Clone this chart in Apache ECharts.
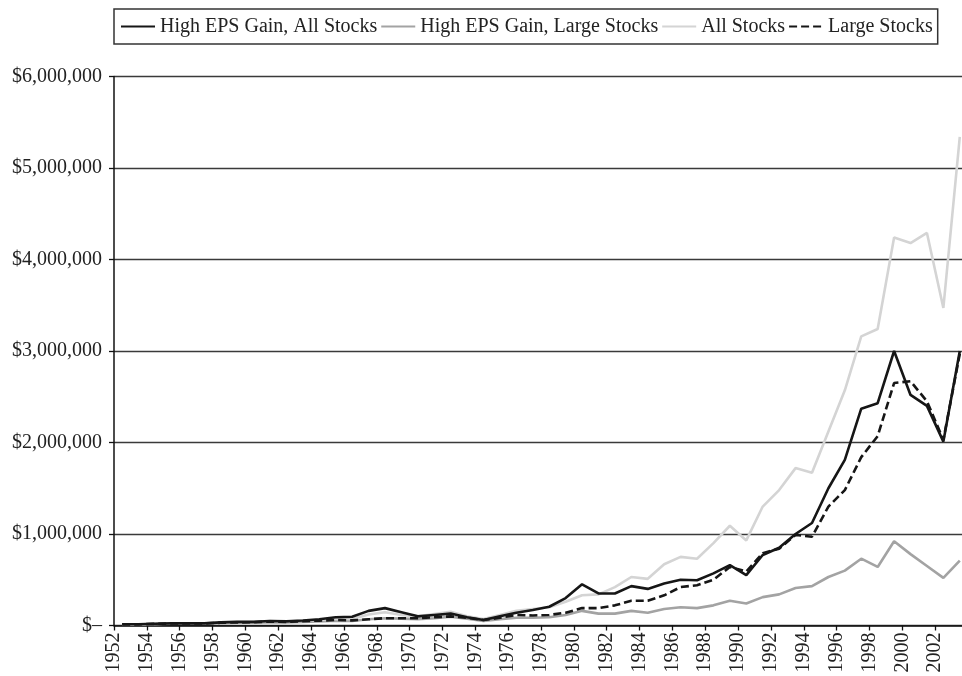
<!DOCTYPE html>
<html>
<head>
<meta charset="utf-8">
<script src="https://cdn.jsdelivr.net/npm/echarts@6/dist/echarts.min.js"></script>
<style>
html,body{margin:0;padding:0;background:#fff;}
#chart{width:962px;height:676px;}
</style>
</head>
<body>
<div id="chart"></div>
<script>
const years = [1952,1953,1954,1955,1956,1957,1958,1959,1960,1961,1962,1963,1964,1965,1966,1967,1968,1969,1970,1971,1972,1973,1974,1975,1976,1977,1978,1979,1980,1981,1982,1983,1984,1985,1986,1987,1988,1989,1990,1991,1992,1993,1994,1995,1996,1997,1998,1999,2000,2001,2002,2003];

const highEpsAll = [13000,13000,19000,23000,25000,23000,34000,40000,40000,50000,45000,55000,68000,90000,95000,160000,190000,145000,100000,115000,130000,90000,60000,100000,140000,170000,205000,300000,450000,350000,350000,430000,400000,460000,500000,495000,570000,660000,550000,770000,850000,1000000,1120000,1500000,1810000,2370000,2430000,3000000,2520000,2400000,2010000,3000000];

const highEpsLarge = [11000,11000,16000,19000,21000,19000,26000,30000,30000,37000,33000,40000,45000,52000,50000,68000,80000,75000,70000,80000,95000,75000,50000,70000,85000,85000,90000,115000,160000,130000,130000,160000,140000,180000,200000,190000,220000,270000,240000,310000,340000,410000,430000,530000,600000,730000,640000,920000,780000,650000,520000,710000];

const allStocks = [12000,12000,18000,22000,24000,22000,33000,38000,38000,48000,43000,52000,60000,75000,72000,120000,145000,115000,100000,125000,150000,100000,70000,115000,160000,180000,200000,260000,330000,340000,420000,530000,510000,670000,750000,730000,900000,1090000,930000,1300000,1480000,1720000,1670000,2120000,2570000,3160000,3240000,4240000,4180000,4290000,3470000,5340000];

const largeStocks = [12000,12000,18000,22000,24000,22000,30000,34000,35000,43000,40000,47000,53000,60000,56000,68000,80000,80000,80000,90000,100000,85000,60000,85000,115000,110000,115000,140000,190000,190000,220000,270000,270000,330000,420000,440000,500000,640000,590000,790000,840000,990000,970000,1300000,1480000,1840000,2070000,2650000,2670000,2450000,2030000,2970000];

const seriesNames = ['High EPS Gain, All Stocks','High EPS Gain, Large Stocks','All Stocks','Large Stocks'];

const FONT = 'Liberation Serif';
const chart = echarts.init(document.getElementById('chart'), null, {renderer:'canvas'});

function lineSeries(name, data, color, type, z){
  return {
    name: name, type: 'line', data: data,
    xAxisIndex: 0, yAxisIndex: 0,
    symbol: 'none', showSymbol: false,
    lineStyle: {color: color, width: 2.6, type: type},
    itemStyle: {color: color},
    z: z
  };
}

chart.setOption({
  animation: false,
  backgroundColor: '#fff',
  legend: {
    left: 114, top: 9,
    padding: [7, 5, 7, 6],
    itemGap: 3,
    itemWidth: 34, itemHeight: 14,
    borderColor: '#333', borderWidth: 1.5,
    itemStyle: {opacity: 0},
    textStyle: {fontFamily: FONT, fontSize: 20, color: '#222', lineHeight: 21},
    data: seriesNames
  },
  grid: {left: 114, top: 76.5, width: 854, height: 549, containLabel: false, outerBoundsMode: 'none'},
  xAxis: [
    {
      type: 'category', data: years, boundaryGap: true, position: 'top',
      axisLine: {show: false}, axisTick: {show: false}, axisLabel: {show: false},
      splitLine: {show: false}
    },
    {
      type: 'value', min: 1952, max: 2004, interval: 2, position: 'bottom',
      axisLine: {show: true, lineStyle: {color: '#111', width: 1.5}},
      axisTick: {show: true, length: 5, lineStyle: {color: '#111', width: 1.3}},
      axisLabel: {rotate: 90, margin: 7, fontFamily: FONT, fontSize: 20, color: '#222',
        showMaxLabel: false,
        formatter: function(v){ return v >= 2004 ? '' : String(v); }},
      splitLine: {show: false}
    }
  ],
  yAxis: {
    type: 'value', min: 0, max: 6000000, interval: 1000000,
    axisLine: {show: true, lineStyle: {color: '#111', width: 1.5}},
    axisTick: {show: true, length: 5, lineStyle: {color: '#111', width: 1.3}},
    axisLabel: {margin: 12, fontFamily: FONT, fontSize: 20, color: '#222',
      formatter: function(v){ return v === 0 ? '$\u2013' : '$' + v.toLocaleString('en-US'); }},
    splitLine: {show: true, lineStyle: {color: '#3a3a3a', width: 1.3}}
  },
  series: [
    lineSeries(seriesNames[0], highEpsAll, '#161616', 'solid', 5),
    lineSeries(seriesNames[1], highEpsLarge, '#a3a3a3', 'solid', 2),
    lineSeries(seriesNames[2], allStocks, '#d4d4d4', 'solid', 3),
    lineSeries(seriesNames[3], largeStocks, '#161616', [8, 4], 4)
  ]
});
</script>
</body>
</html>
